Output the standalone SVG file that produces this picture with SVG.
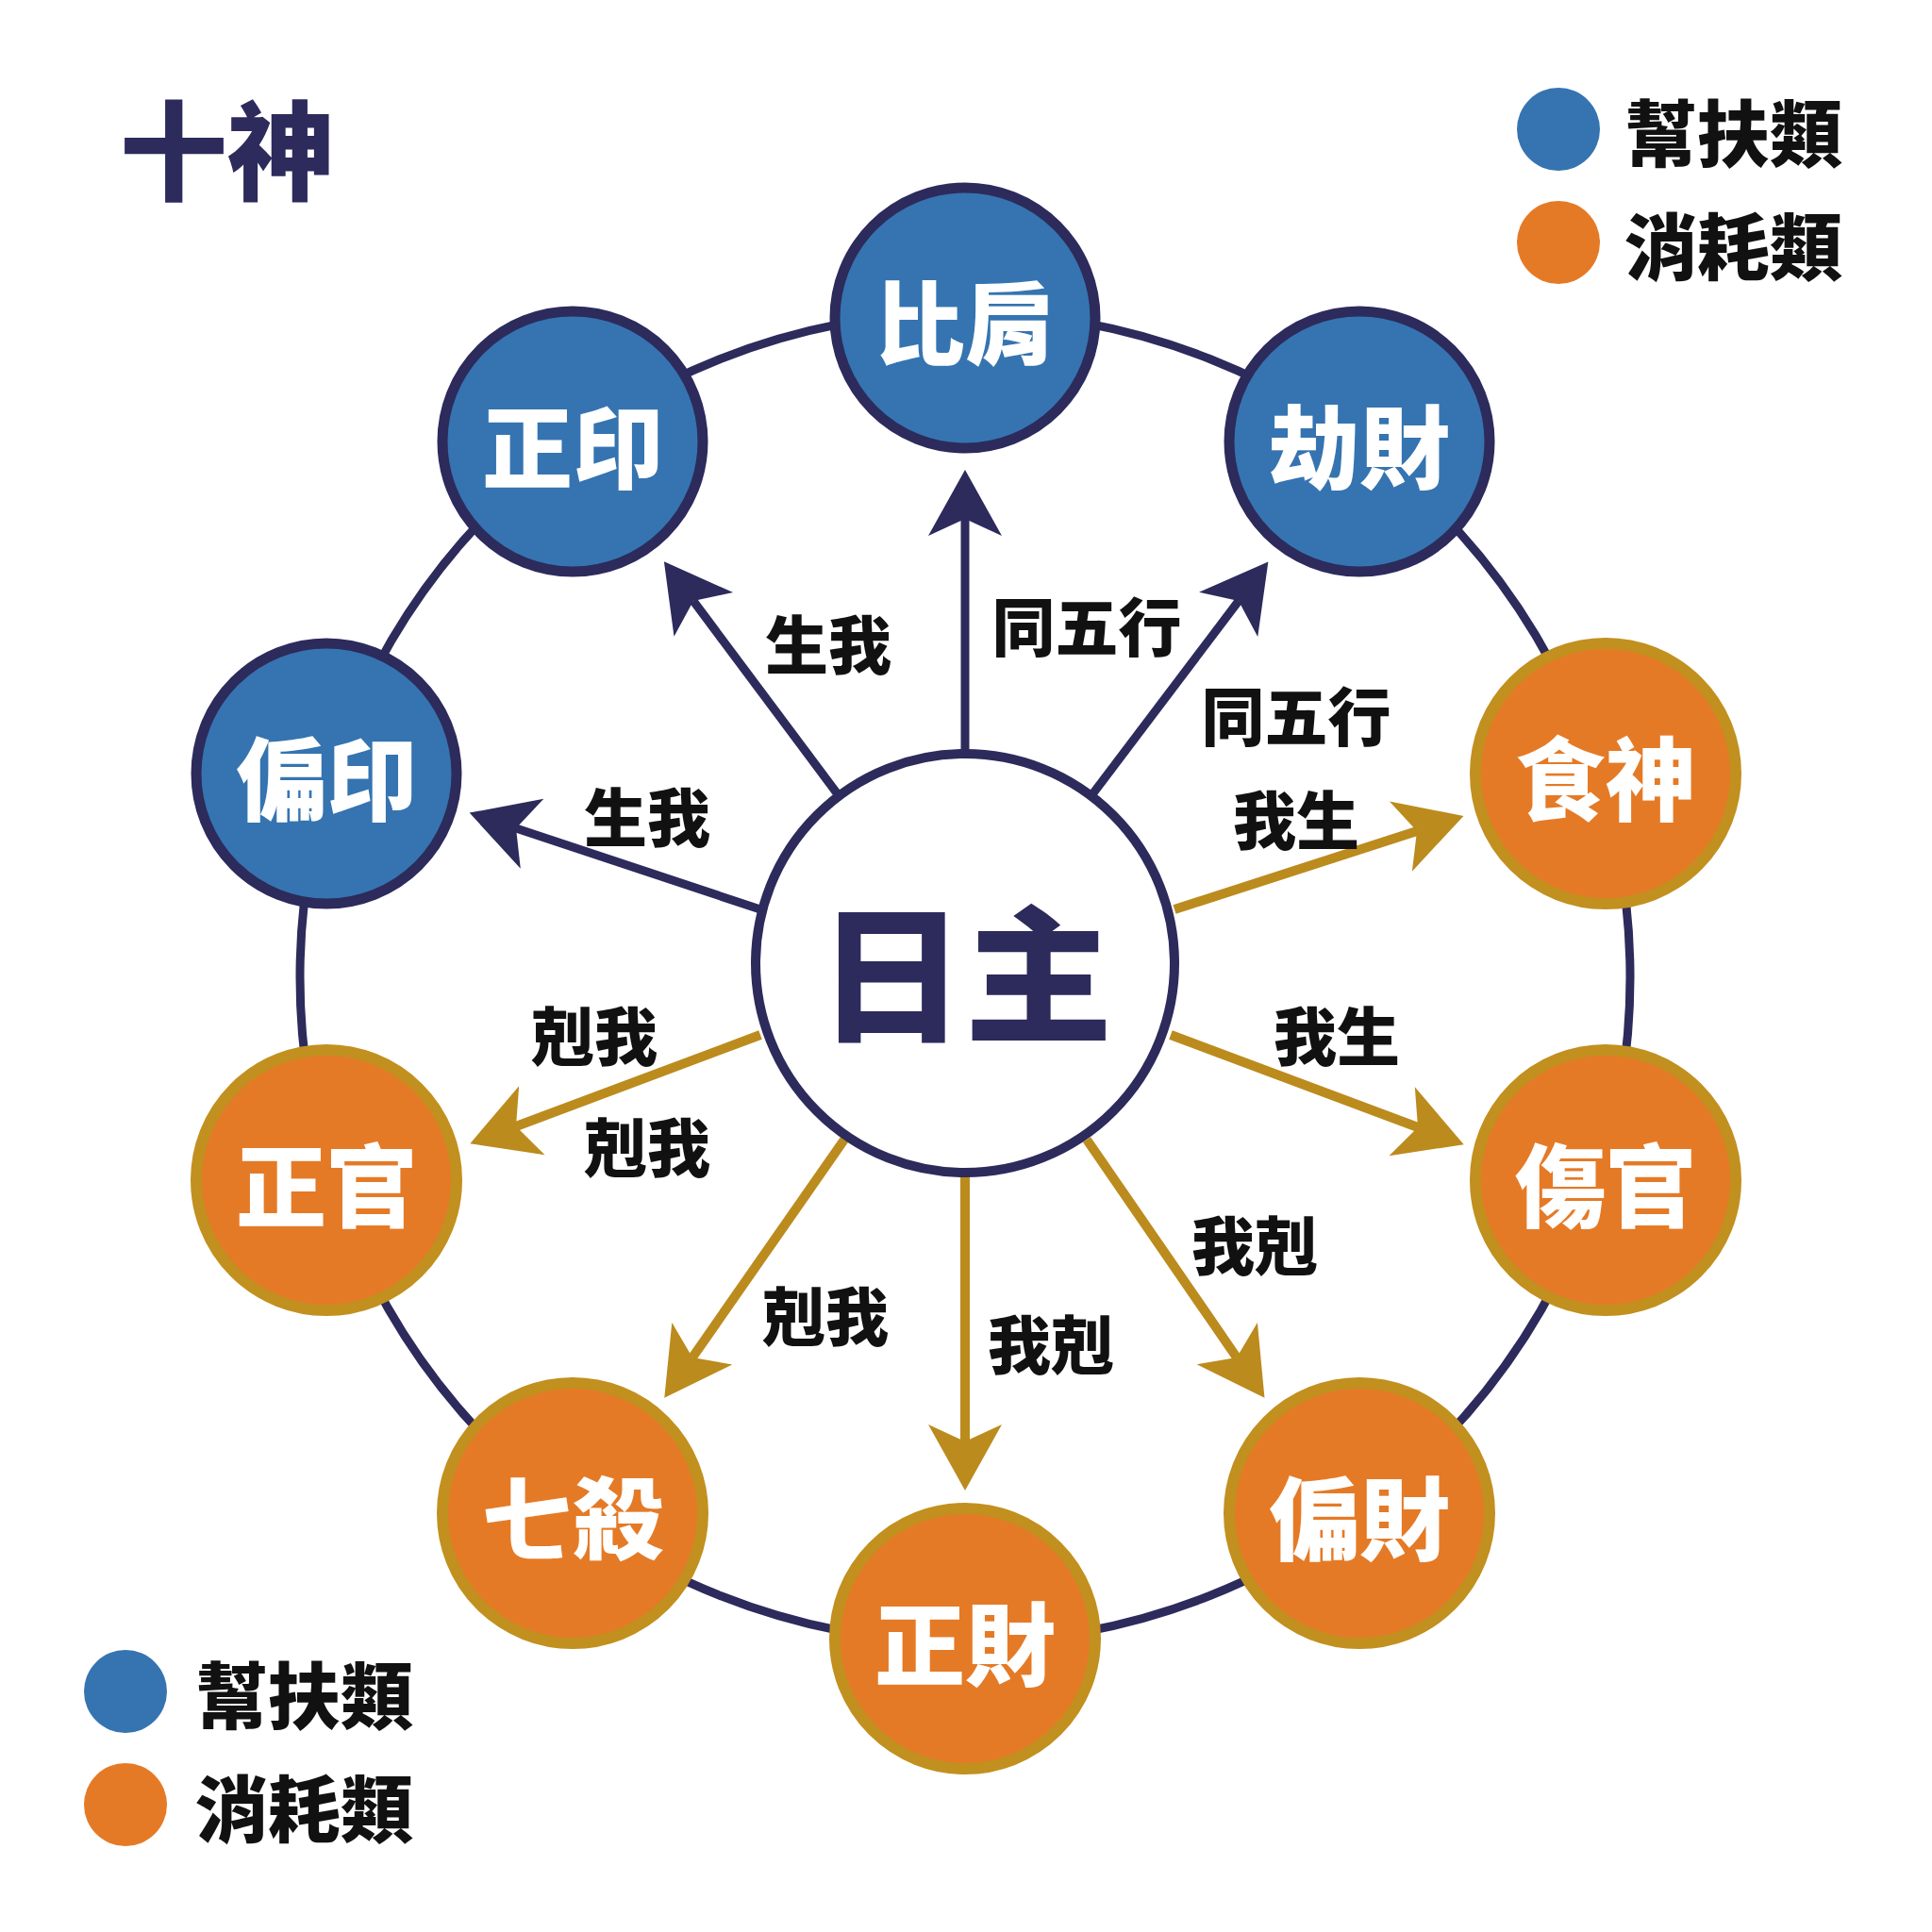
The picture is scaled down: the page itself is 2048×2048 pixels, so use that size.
<svg xmlns="http://www.w3.org/2000/svg" width="2048" height="2048" viewBox="0 0 2048 2048">
<style>
.t{font-family:"Noto Sans CJK TC","Noto Sans CJK SC",sans-serif;font-weight:900;text-anchor:middle;dominant-baseline:central}
.nl{fill:#ffffff;font-size:96px}
.lb{fill:#111111;font-size:67px}
.lg{fill:#111111;font-size:77px;text-anchor:start}
.blue{fill:#3574b0;stroke:#2d2a5c;stroke-width:11}
.orange{fill:#e57a26;stroke:#c1901f;stroke-width:12}
.an{stroke:#2d2a5c;stroke-width:9;fill:none;marker-end:url(#hn)}
.ag{stroke:#bb8b1e;stroke-width:10;fill:none;marker-end:url(#hg)}
</style>
<defs>
<marker id="hn" markerUnits="userSpaceOnUse" viewBox="-20 -40 72 80" markerWidth="72" markerHeight="80" refX="0" refY="0" orient="auto" overflow="visible">
<path d="M52 0 L-18 -39 L0 0 L-18 39 Z" fill="#2d2a5c"/>
</marker>
<marker id="hg" markerUnits="userSpaceOnUse" viewBox="-20 -40 72 80" markerWidth="72" markerHeight="80" refX="0" refY="0" orient="auto" overflow="visible">
<path d="M52 0 L-18 -39 L0 0 L-18 39 Z" fill="#bb8b1e"/>
</marker>
</defs>
<rect width="2048" height="2048" fill="#ffffff"/>
<g id="title"><text class="t" x="241" y="153" font-size="114" fill="#2d2a5c">十神</text></g>
<g id="ring"><circle cx="1023" cy="1036" r="705" fill="none" stroke="#2d2a5c" stroke-width="9"/></g>
<g id="connectors">
<line class="an" x1="1023" y1="797" x2="1023" y2="550"/>
<line class="an" x1="1158" y1="842" x2="1313" y2="637"/>
<line class="an" x1="888" y1="842" x2="735" y2="637"/>
<line class="an" x1="806" y1="964" x2="547" y2="878"/>
<line class="ag" x1="1245" y1="964" x2="1502" y2="881"/>
<line class="ag" x1="1241" y1="1097" x2="1503" y2="1195"/>
<line class="ag" x1="806" y1="1097" x2="547" y2="1194"/>
<line class="ag" x1="895" y1="1208" x2="734" y2="1439"/>
<line class="ag" x1="1023" y1="1247" x2="1023" y2="1528"/>
<line class="ag" x1="1152" y1="1208" x2="1311" y2="1439"/>
</g>
<g id="labels">
<text class="t lb" x="878" y="679">生我</text>
<text class="t lb" x="1152" y="660">同五行</text>
<text class="t lb" x="1374" y="755">同五行</text>
<text class="t lb" x="1374" y="865">我生</text>
<text class="t lb" x="686" y="862">生我</text>
<text class="t lb" x="630" y="1094">剋我</text>
<text class="t lb" x="686" y="1212">剋我</text>
<text class="t lb" x="1417" y="1094">我生</text>
<text class="t lb" x="1330" y="1316">我剋</text>
<text class="t lb" x="875" y="1391">剋我</text>
<text class="t lb" x="1114" y="1421">我剋</text>
</g>
<g id="rizhu">
<circle cx="1023" cy="1021" r="222" fill="#ffffff" stroke="#2d2a5c" stroke-width="10"/>
<text class="t" x="1023" y="1024" font-size="156" fill="#2d2a5c">日主</text>
</g>
<g id="bijian"><circle class="blue" cx="1023" cy="337" r="138"/><text class="t nl" x="1023" y="337">比肩</text></g>
<g id="jiecai"><circle class="blue" cx="1441" cy="468" r="138"/><text class="t nl" x="1441" y="468">劫財</text></g>
<g id="shishen"><circle class="orange" cx="1702" cy="820" r="138"/><text class="t nl" x="1702" y="820">食神</text></g>
<g id="shangguan"><circle class="orange" cx="1702" cy="1251" r="138"/><text class="t nl" x="1702" y="1251">傷官</text></g>
<g id="piancai"><circle class="orange" cx="1441" cy="1604" r="138"/><text class="t nl" x="1441" y="1604">偏財</text></g>
<g id="zhengcai"><circle class="orange" cx="1023" cy="1737" r="138"/><text class="t nl" x="1023" y="1737">正財</text></g>
<g id="qisha"><circle class="orange" cx="607" cy="1604" r="138"/><text class="t nl" x="607" y="1604">七殺</text></g>
<g id="zhengguan"><circle class="orange" cx="346" cy="1251" r="138"/><text class="t nl" x="346" y="1251">正官</text></g>
<g id="pianyin"><circle class="blue" cx="346" cy="820" r="138"/><text class="t nl" x="346" y="820">偏印</text></g>
<g id="zhengyin"><circle class="blue" cx="607" cy="468" r="138"/><text class="t nl" x="607" y="468">正印</text></g>
<g id="legend-top">
<circle cx="1652" cy="137" r="44" fill="#3574b0"/>
<text class="t lg" x="1722" y="137">幫扶類</text>
<circle cx="1652" cy="257" r="44" fill="#e57a26"/>
<text class="t lg" x="1722" y="257">消耗類</text>
</g>
<g id="legend-bottom">
<circle cx="133" cy="1793" r="44" fill="#3574b0"/>
<text class="t lg" x="207" y="1793">幫扶類</text>
<circle cx="133" cy="1913" r="44" fill="#e57a26"/>
<text class="t lg" x="207" y="1913">消耗類</text>
</g>
</svg>
